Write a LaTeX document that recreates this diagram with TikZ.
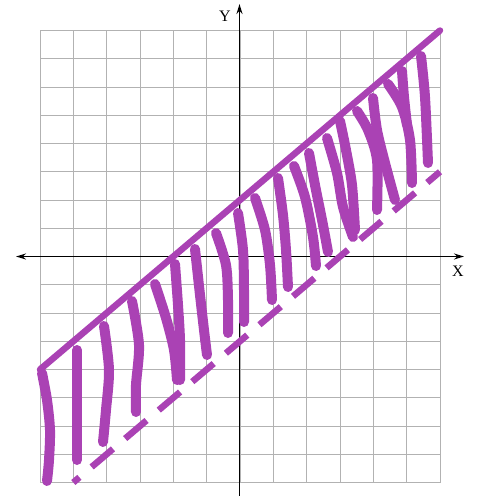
\documentclass[tikz,border=0pt]{standalone}
\usepackage{fontspec}
\setmainfont{Liberation Serif}
\usetikzlibrary{arrows.meta}
\definecolor{hatch}{RGB}{170,66,180}
\begin{document}
\begin{tikzpicture}[x=1pt,y=-1pt,
  gridline/.style={draw=gray!60,line width=0.7pt},
  axis/.style={draw=black,line width=1.8pt},
  bound/.style={draw=hatch,line width=6.5pt,line cap=round},
  dashbound/.style={draw=hatch,line width=6.5pt,line cap=butt,dash pattern=on 28pt off 16pt,dash phase=20pt},
  hstroke/.style={draw=hatch,line width=10pt,line cap=round,line join=round},
  lbl/.style={font=\fontsize{16}{16}\selectfont,inner sep=0pt}]
\useasboundingbox (0,0) rectangle (479,496);
% grid
\foreach \i in {0,...,12} \draw[gridline] ({40+33.333*\i},30.5) -- ({40+33.333*\i},482.5);
\foreach \j in {0,...,16} \draw[gridline] (40,{30.5+28.25*\j}) -- (440,{30.5+28.25*\j});
% axes
\coordinate (xl) at (16,256.5);
\coordinate (xr) at (464,256.5);
\coordinate (yt) at (239.5,4);
\coordinate (yb) at (239.5,496);
\draw[axis,{Stealth[length=10pt,width=6pt]}-{Stealth[length=10pt,width=6pt]}] (xl) -- (xr);
\draw[axis,-{Stealth[length=10pt,width=6pt]}] (yb) -- (yt);
\node[lbl] (ylab) at (225,16) {Y};
\node[lbl] (xlab) at (458,271) {X};
% hatching strokes
\foreach \pts in {
  {(42,373) (47,400) (50,430) (49,460) (47,481)},
  {(77,350) (77,400) (77,460)},
  {(104,326) (109,370) (106,410) (103,442)},
  {(132,301) (139,345) (136,385) (136,412)},
  {(155,284) (166,318) (174,350) (177,380)},
  {(175,264) (178,305) (180,340) (180,380)},
  {(195,249) (200,295) (204,330) (207,355)},
  {(216,233) (226,265) (228,300) (228,333)},
  {(238,213) (243,250) (244,290) (244,322)},
  {(255,198) (265,230) (270,265) (272,300)},
  {(278,178) (283,215) (286,250) (288,287)},
  {(294,166) (305,197) (313,237) (316,266)},
  {(309,153) (315,185) (323,225) (328,252)},
  {(327,138) (337,173) (343,207) (353,237)},
  {(340,121) (346,150) (352,185) (355,230)},
  {(357,111) (368,130) (377,160) (377,210)},
  {(373,98) (377,130) (385,163) (395,200)},
  {(388,84) (402,107) (410,140) (412,183)},
  {(402,71) (404,97) (407,125)},
  {(421,56) (425,97) (428,163)}}
  \draw[hstroke] plot[smooth] coordinates \pts;
% boundary lines
\coordinate (s1) at (40,369.5);
\coordinate (s2) at (440,30.5);
\draw[bound] (s1) -- (s2);
\coordinate (d1) at (73.3,482.5);
\coordinate (d2) at (440,171.75);
\draw[dashbound] (d1) -- (d2);
\end{tikzpicture}
\end{document}
